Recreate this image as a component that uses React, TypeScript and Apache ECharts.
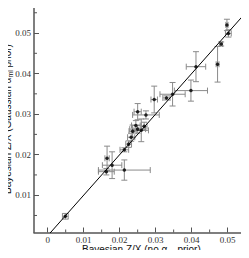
import React, { useEffect, useRef } from "react";
import * as echarts from "echarts";

// Data: [x, y, xErr, yErr]
const xVals = [0.0049, 0.0163, 0.0165, 0.0179, 0.0213, 0.0213, 0.0225, 0.0232, 0.0236, 0.0245, 0.0250, 0.0260, 0.0250, 0.0273, 0.0296, 0.0330, 0.0347, 0.0398, 0.0412, 0.0472, 0.0482, 0.0502, 0.0498, 0.0268];
const yVals = [0.0048, 0.0158, 0.0191, 0.0174, 0.0162, 0.0212, 0.0226, 0.0243, 0.0258, 0.0272, 0.0263, 0.0260, 0.0306, 0.0298, 0.0336, 0.0340, 0.0349, 0.0358, 0.0417, 0.0423, 0.0473, 0.0499, 0.0520, 0.0270];
const xErrs = [0.0008, 0.0022, 0.0006, 0.0027, 0.0072, 0.0012, 0.0008, 0.0010, 0.0010, 0.0012, 0.0022, 0.0020, 0.0010, 0.0037, 0.0009, 0.0010, 0.0035, 0.0046, 0.0027, 0.0004, 0.0004, 0.0008, 0.0003, 0.0008];
const yErrs = [0.0007, 0.0008, 0.0030, 0.0033, 0.0025, 0.0005, 0.0008, 0.0010, 0.0015, 0.0012, 0.0010, 0.0028, 0.0020, 0.0010, 0.0033, 0.0005, 0.0029, 0.0026, 0.0037, 0.0044, 0.0005, 0.0009, 0.0014, 0.0010];
const identityLine = [[0, 0], [0.06, 0.06]];
const xMinorTicks = [0.005, 0.015, 0.025, 0.035, 0.045];
const yMinorTicks = [0.005, 0.015, 0.025, 0.035, 0.045, 0.055];
const xTitleParts = ["Bayesian Z/X (no α", "ml", " prior)"];
const yTitleParts = ["Bayesian Z/X (Gaussian α", "ml", " prior)"];

const X_MIN = -0.0038, X_MAX = 0.0551;
const Y_MIN = 0.0008, Y_MAX = 0.0579;

const AXIS_COLOR = "#555";
const LABEL_FONT = "'Liberation Serif', 'DejaVu Serif', serif";
const NAME_FONT_FAMILY = "Liberation Sans";
const NAME_SIZE = 10;
const SUB_SIZE = 7;

const fmt = (v: number) => {
  const k = v * 100;
  if (Math.abs(k - Math.round(k)) > 1e-6) return "";
  if (Math.round(k) === 0) return "0";
  return v.toFixed(2);
};

function measure(text: string, size: number): number {
  try {
    const c = document.createElement("canvas").getContext("2d");
    if (c) {
      c.font = `${size}px '${NAME_FONT_FAMILY}'`;
      return c.measureText(text).width;
    }
  } catch (e) {}
  return text.length * size * 0.52;
}

function titleGroup(parts: string[], cx: number, cy: number, rotation: number) {
  const w1 = measure(parts[0], NAME_SIZE);
  const ws = measure(parts[1], SUB_SIZE);
  const w2 = measure(parts[2], NAME_SIZE);
  const x0 = Math.round(-(w1 + ws + w2) / 2);
  const main = { fontFamily: NAME_FONT_FAMILY, fontSize: NAME_SIZE, fill: "#111", verticalAlign: "middle", align: "left" };
  const sub = { fontFamily: NAME_FONT_FAMILY, fontSize: SUB_SIZE, fill: "#111", verticalAlign: "middle", align: "left" };
  return {
    type: "group",
    x: cx,
    y: cy,
    rotation,
    silent: true,
    children: [
      { type: "text", x: x0, y: 0, style: { ...main, text: parts[0] } },
      { type: "text", x: x0 + w1, y: 3, style: { ...sub, text: parts[1] } },
      { type: "text", x: x0 + w1 + ws, y: 0, style: { ...main, text: parts[2] } },
    ],
  };
}

export default function App() {
  const ref = useRef<HTMLDivElement>(null);
  useEffect(() => {
    if (!ref.current) return;
    const chart = echarts.init(ref.current, undefined, { renderer: "svg" });
    const errData = xVals.map((x, i) => [x, yVals[i], xErrs[i], yErrs[i]]);
    const pts = xVals.map((x, i) => [x, yVals[i]]);
    const axisCommon = {
      type: "value",
      axisLine: { show: true, onZero: false, lineStyle: { color: AXIS_COLOR, width: 1.5 } },
      axisTick: { show: true, inside: true, length: 5, lineStyle: { color: AXIS_COLOR } },
      splitLine: { show: false },
      splitNumber: 6,
    };
    const labelStyle = { formatter: fmt, fontFamily: LABEL_FONT, fontSize: 9, color: "#333", margin: 3, showMinLabel: false, showMaxLabel: false };
    chart.setOption({
      animation: false,
      grid: { left: 34, right: 3, top: 1, bottom: 25.5, containLabel: false, outerBoundsMode: "none" },
      graphic: [
        titleGroup(xTitleParts, 141, 249, 0),
        titleGroup(yTitleParts, 7, 119, Math.PI / 2),
      ],
      xAxis: [
        { ...axisCommon, min: X_MIN, max: X_MAX, position: "bottom", axisLabel: labelStyle },
        { ...axisCommon, min: X_MIN, max: X_MAX, position: "top", axisLabel: { show: false } },
      ],
      yAxis: [
        { ...axisCommon, min: Y_MIN, max: Y_MAX, position: "left", axisLabel: labelStyle },
        { ...axisCommon, min: Y_MIN, max: Y_MAX, position: "right", axisLabel: { show: false } },
      ],
      series: [
        {
          type: "custom",
          name: "minorX",
          data: xMinorTicks.map((v) => [v]),
          renderItem: (params: any, api: any) => {
            const v = api.value(0);
            const b = api.coord([v, Y_MIN]);
            const t = api.coord([v, Y_MAX]);
            const st = { stroke: AXIS_COLOR, lineWidth: 1 };
            return {
              type: "group",
              children: [
                { type: "line", shape: { x1: b[0], y1: b[1], x2: b[0], y2: b[1] - 3 }, style: st },
                { type: "line", shape: { x1: t[0], y1: t[1], x2: t[0], y2: t[1] + 3 }, style: st },
              ],
            };
          },
          silent: true,
        },
        {
          type: "custom",
          name: "minorY",
          data: yMinorTicks.map((v) => [v]),
          renderItem: (params: any, api: any) => {
            const v = api.value(0);
            const l = api.coord([X_MIN, v]);
            const r = api.coord([X_MAX, v]);
            const st = { stroke: AXIS_COLOR, lineWidth: 1 };
            return {
              type: "group",
              children: [
                { type: "line", shape: { x1: l[0], y1: l[1], x2: l[0] + 3, y2: l[1] }, style: st },
                { type: "line", shape: { x1: r[0], y1: r[1], x2: r[0] - 3, y2: r[1] }, style: st },
              ],
            };
          },
          encode: { x: -1, y: -1 },
          silent: true,
        },
        {
          type: "custom",
          name: "err",
          data: errData,
          renderItem: (params: any, api: any) => {
            const x = api.value(0), y = api.value(1), ex = api.value(2), ey = api.value(3);
            const l = api.coord([x - ex, y]);
            const r = api.coord([x + ex, y]);
            const t = api.coord([x, y + ey]);
            const b = api.coord([x, y - ey]);
            const c = 3;
            const st = { stroke: "#8a8a8a", lineWidth: 1 };
            return {
              type: "group",
              children: [
                { type: "line", shape: { x1: l[0], y1: l[1], x2: r[0], y2: r[1] }, style: st },
                { type: "line", shape: { x1: l[0], y1: l[1] - c, x2: l[0], y2: l[1] + c }, style: st },
                { type: "line", shape: { x1: r[0], y1: r[1] - c, x2: r[0], y2: r[1] + c }, style: st },
                { type: "line", shape: { x1: t[0], y1: t[1], x2: b[0], y2: b[1] }, style: st },
                { type: "line", shape: { x1: t[0] - c, y1: t[1], x2: t[0] + c, y2: t[1] }, style: st },
                { type: "line", shape: { x1: b[0] - c, y1: b[1], x2: b[0] + c, y2: b[1] }, style: st },
              ],
            };
          },
          encode: { x: 0, y: 1 },
          silent: true,
        },
        {
          type: "line",
          data: identityLine,
          symbol: "none",
          clip: true,
          lineStyle: { color: "#000", width: 1 },
          silent: true,
        },
        {
          type: "scatter",
          data: pts,
          symbol: "circle",
          symbolSize: 3.5,
          itemStyle: { color: "#000" },
          silent: true,
        },
      ],
    });
    return () => chart.dispose();
  }, []);
  return <div ref={ref} style={{ width: 249, height: 258, margin: -8 }} />;
}
